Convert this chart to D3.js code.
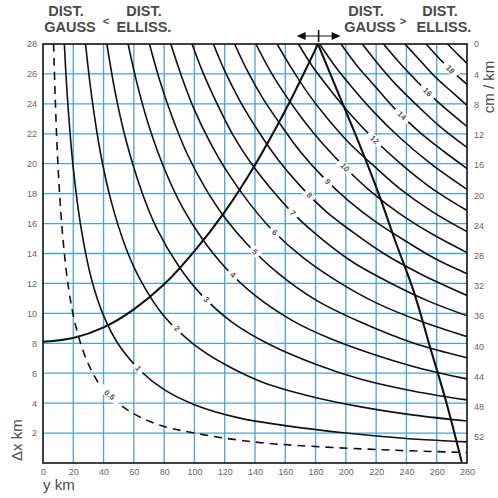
<!DOCTYPE html>
<html>
<head>
  <script src="https://d3js.org/d3.v7.min.js"></script>
  <style>
    body { margin: 0; background: #fff; }
    .tick text { font-family: "Liberation Sans", Arial, sans-serif; font-size: 9px; fill: #666; }
    .head { font-family: "Liberation Sans", Arial, sans-serif; font-size: 14.5px; font-weight: bold; fill: #4a4a4a; }
    .axisLabel { font-family: "Liberation Sans", Arial, sans-serif; font-size: 15px; fill: #4a4a4a; }
    .curveLabel { font-family: "Liberation Sans", Arial, sans-serif; font-size: 8px; font-weight: bold; fill: #555; }
  </style>
</head>
<body>
<div id="chart"></div>
<script>
// tick values
const xTicks = [0, 20, 40, 60, 80, 100, 120, 140, 160, 180, 200, 220, 240, 260, 280];
const yTicks = [2, 4, 6, 8, 10, 12, 14, 16, 18, 20, 22, 24, 26, 28];
const cmTicks = [0, 4, 8, 12, 16, 20, 24, 28, 32, 36, 40, 44, 48, 52];

// iso-curves, points read as [y km, dx km]
const curveValues = [0.5, 1, 2, 3, 4, 5, 6, 7, 8, 9, 10, 11, 12, 13, 14, 15, 16, 17, 18, 19];
const curvePoints = [
  [[7.0,28],[8,24.6],[10,19.7],[13,15.2],[17,11.6],[22,9.0],[30,6.6],[40,4.9],[55,3.6],[75,2.6],[100,2.0],[140,1.4],[180,1.1],[230,0.86],[280,0.70]],
  [[14.1,28],[16,24.6],[20,19.7],[25,15.8],[32,12.3],[40,9.85],[50,7.9],[65,6.1],[80,4.9],[100,3.9],[130,3.0],[160,2.5],[200,2.0],[240,1.64],[280,1.41]],
  [[28.1,28],[32,24.6],[38,20.7],[45,17.5],[55,14.3],[65,12.1],[80,9.8],[100,7.9],[120,6.6],[145,5.4],[175,4.5],[210,3.75],[245,3.2],[280,2.81]],
  [[42.2,28],[48,24.6],[55,21.5],[65,18.2],[75,15.7],[90,13.1],[105,11.2],[125,9.4],[150,7.9],[180,6.6],[210,5.6],[245,4.8],[280,4.22]],
  [[56.2,28],[62,25.4],[70,22.5],[80,19.7],[92,17.1],[105,15.0],[120,13.1],[140,11.2],[165,9.5],[190,8.3],[220,7.2],[250,6.3],[280,5.62]],
  [[70.3,28],[77,25.6],[85,23.2],[95,20.7],[107,18.4],[120,16.4],[135,14.6],[155,12.7],[180,10.9],[210,9.4],[245,8.0],[280,7.03]],
  [[84.4,28],[92,25.7],[100,23.6],[110,21.5],[122,19.4],[136,17.4],[152,15.5],[172,13.7],[195,12.1],[220,10.7],[250,9.45],[280,8.44]],
  [[98.4,28],[106,26.0],[115,24.0],[125,22.0],[137,20.1],[150,18.4],[166,16.6],[185,14.9],[205,13.4],[230,12.0],[255,10.8],[280,9.84]],
  [[112.5,28],[120,26.2],[130,24.2],[142,22.2],[155,20.3],[170,18.5],[187,16.8],[205,15.4],[225,14.0],[250,12.6],[280,11.2]],
  [[126.5,28],[135,26.2],[145,24.4],[157,22.6],[170,20.8],[185,19.1],[202,17.5],[220,16.1],[240,14.8],[260,13.6],[280,12.65]],
  [[140.6,28],[150,26.2],[160,24.6],[172,22.9],[185,21.3],[200,19.7],[217,18.1],[235,16.7],[257,15.3],[280,14.06]],
  [[154.6,28],[164,26.4],[175,24.7],[188,23.0],[202,21.4],[218,19.9],[236,18.3],[257,16.8],[280,15.46]],
  [[168.7,28],[178,26.5],[190,24.9],[203,23.3],[218,21.7],[235,20.1],[256,18.4],[280,16.87]],
  [[182.7,28],[193,26.5],[205,25.0],[219,23.4],[235,21.8],[256,20.0],[280,18.28]],
  [[196.8,28],[207,26.6],[219,25.2],[233,23.6],[250,22.0],[265,20.8],[280,19.68]],
  [[210.9,28],[221,26.7],[233,25.3],[247,23.9],[262,22.5],[280,21.09]],
  [[224.9,28],[235,26.8],[247,25.5],[260,24.2],[280,22.49]],
  [[239.0,28],[249,26.9],[260,25.7],[270,24.8],[280,23.9]],
  [[253.0,28],[262,27.0],[271,26.1],[280,25.3]],
  [[267.1,28],[273,27.4],[280,26.7]]
];

// which curves carry a number, and at what y km the number sits
const labelValues = [0.5, 1, 2, 3, 4, 5, 6, 7, 8, 9, 10, 12, 14, 16, 18];
const labelY = [44, 63, 88.5, 108, 125.5, 140, 153, 165, 176, 188, 199.5, 219, 237, 254, 269];

// scale-error branches, points read as [y km, cm/km] on the right axis
const leftBranch = [[0,39.4],[20,38.9],[40,37.5],[60,35.1],[80,31.8],[100,27.4],[120,22.2],[140,16.0],[160,8.8],[172,4.0],[181.6,0]];
const rightBranch = [[181.6,0],[196,7.0],[207,12.3],[222,20.0],[232.5,26.0],[244.6,32.6],[255.6,40.1],[266.6,47.6],[276.5,55.3]];

const width = 498, height = 498;
const margin = {top: 44, left: 43, right: 31, bottom: 35};

const svg = d3.select("#chart").append("svg")
  .attr("width", width)
  .attr("height", height);

const xScale = d3.scaleLinear().domain([0, 280]).range([margin.left, width - margin.right]);
const yScale = d3.scaleLinear().domain([0, 28]).range([height - margin.bottom, margin.top]);
const cmScale = d3.scaleLinear().domain([0, 55.44]).range([margin.top, height - margin.bottom]);

svg.append("clipPath").attr("id", "plot")
  .append("rect")
  .attr("x", margin.left).attr("y", margin.top)
  .attr("width", xScale(280) - xScale(0))
  .attr("height", yScale(0) - yScale(28));

/* GRID */
const grid = svg.append("g").attr("stroke", "#47a3da").attr("stroke-width", 1.3);
grid.selectAll("line.v").data(xTicks.slice(1, -1)).enter().append("line")
  .attr("x1", d => xScale(d)).attr("x2", d => xScale(d))
  .attr("y1", yScale(0)).attr("y2", yScale(28));
grid.selectAll("line.h").data(yTicks.slice(0, -1)).enter().append("line")
  .attr("y1", d => yScale(d)).attr("y2", d => yScale(d))
  .attr("x1", xScale(0)).attr("x2", xScale(280));

/* CURVES */
const line = d3.line()
  .x(d => xScale(d[0]))
  .y(d => yScale(d[1]))
  .curve(d3.curveCatmullRom.alpha(0.5));

const curves = svg.append("g").attr("clip-path", "url(#plot)");
curves.selectAll("path.iso").data(curvePoints).enter().append("path")
  .attr("d", line)
  .attr("fill", "none")
  .attr("stroke", "#111")
  .attr("stroke-width", 1.6)
  .attr("stroke-dasharray", (d, i) => curveValues[i] === 0.5 ? "8,6" : null);

const cmLine = d3.line()
  .x(d => xScale(d[0]))
  .y(d => cmScale(d[1]))
  .curve(d3.curveCatmullRom.alpha(0.5));

curves.selectAll("path.branch").data([leftBranch, rightBranch]).enter().append("path")
  .attr("d", cmLine)
  .attr("fill", "none")
  .attr("stroke", "#111")
  .attr("stroke-width", 2.1);

/* CURVE NUMBERS */
function placeOn(pts, yk) {
  let i = 0;
  while (i < pts.length - 2 && pts[i + 1][0] < yk) i++;
  const a = pts[i], b = pts[i + 1];
  const t = (yk - a[0]) / (b[0] - a[0]);
  const x0 = xScale(a[0]), y0 = yScale(a[1]), x1 = xScale(b[0]), y1 = yScale(b[1]);
  return {
    x: x0 + t * (x1 - x0),
    y: y0 + t * (y1 - y0),
    angle: Math.atan2(y1 - y0, x1 - x0) * 180 / Math.PI
  };
}

labelValues.forEach(function(v, k) {
  const pts = curvePoints[curveValues.indexOf(v)];
  const p = placeOn(pts, labelY[k]);
  const txt = String(v);
  const g = svg.append("g").attr("transform", `translate(${p.x},${p.y}) rotate(${p.angle})`);
  g.append("rect")
    .attr("x", -txt.length * 3 - 3).attr("y", -4)
    .attr("width", txt.length * 6 + 6).attr("height", 8)
    .attr("fill", "#fff");
  g.append("text")
    .attr("class", "curveLabel")
    .attr("text-anchor", "middle")
    .attr("dy", "0.35em")
    .text(txt);
});

/* FRAME */
svg.append("rect")
  .attr("x", xScale(0)).attr("y", yScale(28))
  .attr("width", xScale(280) - xScale(0))
  .attr("height", yScale(0) - yScale(28))
  .attr("fill", "none")
  .attr("stroke", "#111")
  .attr("stroke-width", 1.6);

/* AXES */
const xAxis = svg.append("g")
  .attr("transform", `translate(0,${yScale(0)})`)
  .call(d3.axisBottom(xScale).tickValues(xTicks).tickSize(0).tickPadding(6));
const yAxis = svg.append("g")
  .attr("transform", `translate(${xScale(0)},0)`)
  .call(d3.axisLeft(yScale).tickValues(yTicks).tickSize(0).tickPadding(6));
const cmAxis = svg.append("g")
  .attr("transform", `translate(${xScale(280)},0)`)
  .call(d3.axisRight(cmScale).tickValues(cmTicks).tickSize(0).tickPadding(7));
svg.selectAll(".domain").remove();

/* AXIS LABELS */
svg.append("text")
  .attr("class", "axisLabel")
  .attr("x", xScale(0)).attr("y", 490)
  .text("y  km");

svg.append("text")
  .attr("class", "axisLabel")
  .attr("transform", "rotate(-90)")
  .attr("x", -461).attr("y", 22)
  .text("Δx  km");

svg.append("text")
  .attr("class", "axisLabel")
  .attr("transform", "rotate(-90)")
  .attr("x", -87).attr("y", 494)
  .attr("text-anchor", "middle")
  .text("cm / km");

/* HEADER */
const head = [
  {t: "DIST.", x: 66, y: 16}, {t: "GAUSS", x: 70, y: 32}, {t: "<", x: 106, y: 25},
  {t: "DIST.", x: 144, y: 16}, {t: "ELLISS.", x: 144, y: 32},
  {t: "DIST.", x: 366, y: 16}, {t: "GAUSS", x: 370, y: 32}, {t: ">", x: 403, y: 25},
  {t: "DIST.", x: 440, y: 16}, {t: "ELLISS.", x: 444, y: 32}
];
svg.selectAll("text.head").data(head).enter().append("text")
  .attr("class", "head")
  .attr("text-anchor", "middle")
  .attr("x", d => d.x).attr("y", d => d.y)
  .style("font-size", d => (d.t === "<" || d.t === ">") ? "11px" : null)
  .text(d => d.t);

/* ISOMETRIC MARK */
const cx = xScale(182), ay = 36;
const mark = svg.append("g").attr("fill", "#111").attr("stroke", "#111");
mark.append("line").attr("x1", cx - 16).attr("x2", cx + 16).attr("y1", ay).attr("y2", ay).attr("stroke-width", 1.2);
mark.append("path").attr("d", `M${cx - 22},${ay} l9,-4 v8 z`).attr("stroke", "none");
mark.append("path").attr("d", `M${cx + 22},${ay} l-9,-4 v8 z`).attr("stroke", "none");
mark.append("line").attr("x1", cx).attr("x2", cx).attr("y1", ay - 6).attr("y2", ay + 6).attr("stroke-width", 1.6);
</script>
</body>
</html>
